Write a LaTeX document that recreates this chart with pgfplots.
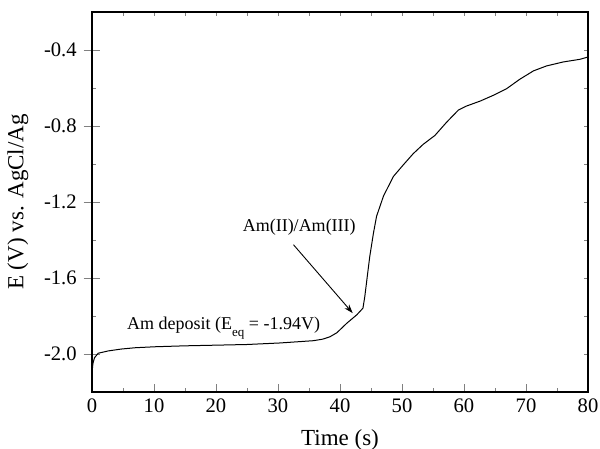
\documentclass[border=0pt]{standalone}
\usepackage{fontspec}
\setmainfont{Liberation Serif}
\usepackage{pgfplots}
\pgfplotsset{compat=1.18}
\usetikzlibrary{arrows.meta}

\begin{document}
\begin{tikzpicture}
% y axis ticks and labels (centred ticks, longer than the x ones)
\begin{axis}[name=yax,
  width=248pt, height=190pt, scale only axis,
  xmin=0, xmax=80, ymin=-2.2, ymax=-0.2,
  hide x axis, y axis line style={draw=none},
  ytick={-2.0,-1.6,-1.2,-0.8,-0.4},
  ytick pos=left, ytick align=center,
  major tick length=8.3pt,
  /pgf/number format/assume math mode=true,
  yticklabel style={/pgf/number format/fixed, /pgf/number format/precision=1,
    /pgf/number format/fixed zerofill, font=\fontsize{10.3}{12}\selectfont},
  ylabel={E (V) vs. AgCl/Ag},
  ylabel style={at={([xshift=-37pt]axis description cs:0,0.5)}, anchor=center,
    font=\fontsize{11.5}{13}\selectfont},
]
\end{axis}
% small inside ticks: every 0.2 on both sides, every 5 s on top
\begin{axis}[
  width=248pt, height=190pt, scale only axis,
  xmin=0, xmax=80, ymin=-2.2, ymax=-0.2,
  axis line style={draw=none},
  xtick={0,5,...,80}, xtick pos=top,
  ytick={-2.2,-2.0,...,-0.2}, ytick pos=both,
  tick align=inside, major tick length=2.2pt,
  xticklabels={}, yticklabels={},
]
\end{axis}
% main axis: box, x ticks, curve
\begin{axis}[name=ax,
  width=248pt, height=190pt, scale only axis,
  xmin=0, xmax=80, ymin=-2.2, ymax=-0.2,
  axis line style={line width=0.8pt},
  xtick={0,10,...,80}, minor x tick num=1,
  xtick pos=bottom, xtick align=inside,
  major tick length=3.8pt, minor tick length=2pt,
  ytick=\empty,
  /pgf/number format/assume math mode=true,
  xticklabel style={font=\fontsize{10.3}{12}\selectfont},
  xlabel={Time (s)},
  xlabel style={at={([yshift=-23.75pt]axis description cs:0.5,0)}, anchor=center,
    font=\fontsize{11.5}{13}\selectfont},
]
\addplot[black, line width=0.5pt] coordinates {
  (0,-2.10) (0.15,-2.05) (0.4,-2.02) (1.0,-1.996) (2.6,-1.984)
  (4.7,-1.974) (7,-1.967) (10.1,-1.962) (15,-1.957) (20.8,-1.953)
  (25,-1.950) (30.3,-1.942) (33,-1.936) (35.7,-1.930) (37.2,-1.922)
  (38.4,-1.909) (39.5,-1.888) (41.1,-1.838) (42.7,-1.794) (43.7,-1.759)
  (44.0,-1.698) (44.4,-1.592) (44.8,-1.487) (45.4,-1.363) (45.9,-1.275)
  (47.0,-1.170) (48.6,-1.066) (50.2,-1.005) (51.8,-0.946) (53.4,-0.897)
  (55.3,-0.850) (57.2,-0.780) (59.1,-0.716) (60.4,-0.695) (62.6,-0.669)
  (64.7,-0.639) (66.9,-0.603) (69.0,-0.554) (71.2,-0.510) (73.3,-0.484)
  (76.0,-0.463) (78.7,-0.449) (80,-0.437)
};
\node[anchor=base west, inner sep=0pt, font=\fontsize{9}{11}\selectfont]
  at (axis cs:5.6,-1.873)
  {Am deposit (E\raisebox{-0.75ex}{\fontsize{6.5}{7}\selectfont eq} = -1.94V)};
\node[anchor=base east, inner sep=0pt, font=\fontsize{9}{11}\selectfont]
  at (axis cs:42.6,-1.355) {Am(II)/Am(III)};
\draw[-{Stealth[length=4.5pt,width=3pt]}, line width=0.45pt]
  (axis cs:32.5,-1.425) -- (axis cs:42.05,-1.785);
\end{axis}
\pgfresetboundingbox
\path (ax.south west) ++(-46pt,-28.5pt) coordinate (bl);
\path (ax.north east) ++(6pt,6pt) coordinate (tr);
\useasboundingbox (bl) rectangle (tr);
\end{tikzpicture}
\end{document}
